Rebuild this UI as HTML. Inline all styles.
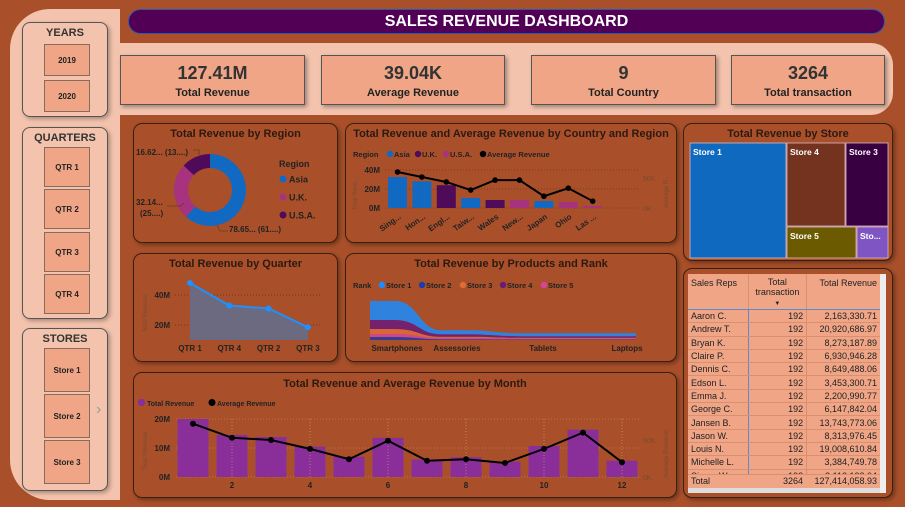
<!DOCTYPE html>
<html><head><meta charset="utf-8"><style>
*{box-sizing:border-box;margin:0;padding:0}
body{width:905px;height:507px;background:#a9502a;font-family:"Liberation Sans",sans-serif;position:relative;overflow:hidden;color:#222}
.abs{position:absolute}
.side{left:10px;top:9px;width:110px;height:491px;background:#f3c3ad;border-radius:40px 0 0 40px}
.grp{position:absolute;left:12px;width:86px;border:1px solid #555;border-radius:8px;background:#f3c3ad;box-shadow:2px 2px 4px rgba(0,0,0,.3)}
.grp h4{font-size:11px;text-align:center;margin-top:4px;font-weight:bold;color:#333}
.btn{position:absolute;left:21px;width:46px;border:1px solid #8a6a5a;background:#efa586;font-size:8px;font-weight:bold;display:flex;align-items:center;justify-content:center;color:#222}
.band{left:120px;top:43px;width:773px;height:72px;background:#f3c3ad;border-radius:0 22px 22px 0}
.kpi{position:absolute;top:12px;height:50px;border:1px solid #555;background:#efa586;text-align:center;box-shadow:2px 2px 4px rgba(0,0,0,.35)}
.kpi b{display:block;font-size:18px;margin-top:7px;color:#333}
.kpi span{display:block;font-size:11px;font-weight:bold;margin-top:3px;color:#222}
.card{position:absolute;border:1px solid #3a2010;border-radius:9px;background:#a9502a;box-shadow:2px 2px 4px rgba(0,0,0,.35)}
.card .t{position:absolute;left:0;right:0;top:4px;text-align:center;font-size:11px;font-weight:bold;color:#2b1a12}
svg text{font-family:"Liberation Sans",sans-serif}
table{border-collapse:collapse;font-size:9px;width:192px}
td{height:13.3px;border-bottom:1px solid #d8906f;padding:0 3px;white-space:nowrap;line-height:12px}
</style></head><body>
<div class="abs side">
 <div class="grp" style="top:13px;height:95px"><h4>YEARS</h4>
  <div class="btn" style="top:21px;height:32px">2019</div>
  <div class="btn" style="top:57px;height:32px">2020</div></div>
 <div class="grp" style="top:118px;height:192px"><h4>QUARTERS</h4>
  <div class="btn" style="top:19px;height:40px">QTR 1</div>
  <div class="btn" style="top:61px;height:40px">QTR 2</div>
  <div class="btn" style="top:104px;height:40px">QTR 3</div>
  <div class="btn" style="top:146px;height:40px">QTR 4</div></div>
 <div class="grp" style="top:319px;height:163px"><h4>STORES</h4>
  <div class="btn" style="top:19px;height:44px">Store 1</div>
  <div class="btn" style="top:65px;height:44px">Store 2</div>
  <div class="btn" style="top:111px;height:44px">Store 3</div>
  <div class="abs" style="left:73px;top:72px;font-size:16px;color:#999">›</div></div>
</div>
<div class="abs" style="left:128px;top:9px;width:757px;height:25px;background:#510055;border:1px solid #2a5ab0;border-radius:13px;color:#fff;font-weight:bold;font-size:16px;text-align:center;line-height:23px">SALES REVENUE DASHBOARD</div>
<div class="abs band">
 <div class="kpi" style="left:0;width:185px"><b>127.41M</b><span>Total Revenue</span></div>
 <div class="kpi" style="left:201px;width:184px"><b>39.04K</b><span>Average Revenue</span></div>
 <div class="kpi" style="left:411px;width:185px"><b>9</b><span>Total Country</span></div>
 <div class="kpi" style="left:611px;width:154px"><b>3264</b><span>Total transaction</span></div>
</div>

<div class="card" style="left:133px;top:123px;width:205px;height:120px"><div class="t">Total Revenue by Region</div></div>
<div class="card" style="left:345px;top:123px;width:332px;height:120px"><div class="t">Total Revenue and Average Revenue by Country and Region</div></div>
<div class="card" style="left:133px;top:253px;width:205px;height:109px"><div class="t">Total Revenue by Quarter</div></div>
<div class="card" style="left:345px;top:253px;width:332px;height:109px"><div class="t">Total Revenue by Products and Rank</div></div>
<div class="card" style="left:133px;top:372px;width:544px;height:126px"><div class="t" style="top:5px">Total Revenue and Average Revenue by Month</div></div>
<div class="card" style="left:683px;top:123px;width:210px;height:138px"><div class="t">Total Revenue by Store</div></div>
<div class="card" style="left:683px;top:268px;width:210px;height:230px"></div>

<svg id="ov" class="abs" style="left:0;top:0" width="905" height="507"></svg>

<div class="abs" style="left:688px;top:274px;width:198px;height:219px;background:#efa586;overflow:hidden">
<table id="tbl"></table>
<div class="abs" style="left:0;top:214px;width:192px;height:5px;background:#ddd"></div>
<div class="abs" style="left:192px;top:0;width:6px;height:219px;background:#eee"></div>
</div>

<script>
const NS="http://www.w3.org/2000/svg";
const ov=document.getElementById('ov');
function mk(tag,attrs,parent,txt){const e=document.createElementNS(NS,tag);for(const k in attrs)e.setAttribute(k,attrs[k]);if(txt!==undefined)e.textContent=txt;(parent||ov).appendChild(e);return e;}

// ---- Region donut data
const regionNames=["Asia","U.K.","U.S.A."];
const regionShares=[61,25,13];
const regionColors=["#1269c2","#a7327e","#4f0b5a"];
// ---- Country data
const countries=["Sing...","Hon...","Engl...","Taiw...","Wales","New...","Japan","Ohio","Las ..."];
const countryRevenue=[32.6,28,24,10.5,8.4,8.4,7.4,6.3,2];
const countryRegion=[0,0,1,0,1,2,0,2,2];
const countryAvg=[58,50,42,29,45,45,19,32,11];
const countryTicks=[0,20,40];
// ---- Quarter data
const quarters=["QTR 1","QTR 4","QTR 2","QTR 3"];
const quarterRevenue=[48,33,31,18.5];
const quarterTicks=[20,40];
// ---- Month data
const months=[1,2,3,4,5,6,7,8,9,10,11,12];
const monthRevenue=[20,14.5,13.8,10.5,7,13.5,6,6.8,5.3,10.7,16.3,5.6];
const monthAvg=[72,53,50,38,24,49,22,24,19,38,60,20];
const monthTicks=[0,10,20];
const monthLabels=[2,4,6,8,10,12];
// ---- Products data (revenue M per store)
const products=["Smartphones","Assessories","Tablets","Laptops"];
const storeNames=["Store 1","Store 2","Store 3","Store 4","Store 5"];
const storeColors=["#1a8cff","#1f3aa6","#e06a3a","#6b1a7a","#d8449a"];
const prodStore1=[19,4,3,3];
const prodStore2=[3,0.8,0.6,0.6];
const prodStore3=[5,1.2,0.8,0.8];
const prodStore4=[9,2.5,1.6,1.5];
const prodStore5=[3,1.2,0.8,0.8];
// ---- Treemap
const treeStores=["Store 1","Store 4","Store 3","Store 5","Sto..."];
const treeColors=["#0f6abf","#74331e","#380040","#6b5a00","#7f55c4"];
// ---- Table
const reps=["Aaron C.","Andrew T.","Bryan K.","Claire P.","Dennis C.","Edson L.","Emma J.","George C.","Jansen B.","Jason W.","Louis N.","Michelle L.","Simon W."];
const repTrans=[192,192,192,192,192,192,192,192,192,192,192,192,192];
const repRevenue=["2,163,330.71","20,920,686.97","8,273,187.89","6,930,946.28","8,649,488.06","3,453,300.71","2,200,990.77","6,147,842.04","13,743,773.06","8,313,976.45","19,008,610.84","3,384,749.78","3,112,122.04"];

// ===== Donut
(function(){
 const cx=210,cy=190,R=36,r=22;let a=-Math.PI/2;const tot=regionShares.reduce((s,v)=>s+v,0);
 regionShares.forEach((v,i)=>{const a2=a+v/tot*2*Math.PI;const lg=(a2-a)>Math.PI?1:0;
  const p=`M${cx+R*Math.cos(a)} ${cy+R*Math.sin(a)} A${R} ${R} 0 ${lg} 1 ${cx+R*Math.cos(a2)} ${cy+R*Math.sin(a2)} L${cx+r*Math.cos(a2)} ${cy+r*Math.sin(a2)} A${r} ${r} 0 ${lg} 0 ${cx+r*Math.cos(a)} ${cy+r*Math.sin(a)}Z`;
  const s=mk('path',{d:p,fill:regionColors[i]});
  
  
  a=a2;});
 mk('text',{x:136,y:155,'font-size':8,'font-weight':'bold',fill:'#222'},null,"16.62... (13....)");
 mk('text',{x:136,y:205,'font-size':8,'font-weight':'bold',fill:'#222'},null,"32.14...");
 mk('text',{x:140,y:216,'font-size':8,'font-weight':'bold',fill:'#222'},null,"(25....)");
 mk('text',{x:229,y:232,'font-size':8,'font-weight':'bold',fill:'#222'},null,"78.65... (61....)");
 mk('path',{d:"M193 150h6v5M167 206h14l3-3M217 225l3 6h8",stroke:'#6a3a20',fill:'none','stroke-width':0.8});
 mk('text',{x:279,y:167,'font-size':9,'font-weight':'bold',fill:'#222'},null,"Region");
 regionNames.forEach((n,i)=>{const y=179+i*18;
  const c=mk('circle',{cx:283,cy:y,r:3.5,fill:regionColors[i]});
  
  
  mk('text',{x:289,y:y+3.5,'font-size':9,'font-weight':'bold',fill:'#222'},null,n);});
})();

// ===== Country chart
(function(){
 const x0=388,step=24.4,bw=19,y0=208,ppm=38/40;const yA=v=>y0-v*31/50;const yR=v=>y0-v*ppm;
 const lx=[353,394,422,450,487];const lt=["Region","Asia","U.K.","U.S.A.","Average Revenue"];const lc=[null,regionColors[0],regionColors[2],regionColors[1],"#000"];
 lt.forEach((t,i)=>{if(lc[i])mk('circle',{cx:lx[i]-4,cy:154,r:3.2,fill:lc[i]});mk('text',{x:lx[i],y:157,'font-size':7.5,'font-weight':'bold',fill:'#222'},null,t);});
 countryTicks.forEach(t=>{const y=yR(t);mk('line',{x1:385,x2:640,y1:y,y2:y,stroke:'#7a3a1e','stroke-dasharray':'1 2'});mk('text',{x:380,y:y+3,'text-anchor':'end','font-size':8,'font-weight':'bold',fill:'#222'},null,t+"M");});
 mk('text',{x:643,y:181,'font-size':7,fill:'#7a4a30'},null,"50K");mk('text',{x:643,y:211,'font-size':7,fill:'#7a4a30'},null,"0K");
 mk('text',{x:0,y:0,'font-size':6,fill:'#7a4a30',transform:'translate(357,210) rotate(-90)'},null,"Total Reve...");
 mk('text',{x:0,y:0,'font-size':6,fill:'#7a4a30',transform:'translate(668,208) rotate(-90)'},null,"Average R...");
 const colsByRegion=[regionColors[0],regionColors[2],regionColors[1]];
 countries.forEach((c,i)=>{const x=x0+i*step;
  const b=mk('rect',{x:x,y:yR(countryRevenue[i]),width:bw,height:y0-yR(countryRevenue[i]),fill:colsByRegion[countryRegion[i]]});
  
  
  mk('text',{x:0,y:0,'font-size':8,'font-weight':'bold',fill:'#222','text-anchor':'end',transform:`translate(${x+bw/2+4},${y0+10}) rotate(-35)`},null,c);});
 const pts=countryAvg.map((v,i)=>[x0+i*step+bw/2,yA(v)]);
 mk('polyline',{points:pts.map(p=>p.join(',')).join(' '),fill:'none',stroke:'#000','stroke-width':2});
 pts.forEach((p,i)=>{const c=mk('circle',{cx:p[0],cy:p[1],r:2.8,fill:'#000'});});
})();

// ===== Quarter chart
(function(){
 const x0=190,step=39.3,base=340;const yv=v=>325-(v-20)*1.5;
 mk('text',{x:0,y:0,'font-size':6,fill:'#7a4a30',transform:'translate(147,332) rotate(-90)'},null,"Total Revenue");
 quarterTicks.forEach(t=>{const y=yv(t);mk('line',{x1:175,x2:322,y1:y,y2:y,stroke:'#6a3518','stroke-dasharray':'1 2'});mk('text',{x:170,y:y+3,'text-anchor':'end','font-size':8,'font-weight':'bold',fill:'#222'},null,t+"M");});
 const pts=quarterRevenue.map((v,i)=>[x0+i*step,yv(v)]);
 mk('path',{d:`M${pts[0][0]} ${base} `+pts.map(p=>`L${p[0]} ${p[1]}`).join(' ')+` L${pts[pts.length-1][0]} ${base}Z`,fill:'#6b6a80'});
 mk('polyline',{points:pts.map(p=>p.join(',')).join(' '),fill:'none',stroke:'#1e90ff','stroke-width':2});
 pts.forEach((p,i)=>{const c=mk('circle',{cx:p[0],cy:p[1],r:3,fill:'#1e90ff'});
  mk('text',{x:p[0],y:351,'text-anchor':'middle','font-size':8,'font-weight':'bold',fill:'#222'},null,quarters[i]);});
})();

// ===== Products ribbon
(function(){
 const lx=[353,386,426,467,507,548];const lt=["Rank"].concat(storeNames);
 lt.forEach((t,i)=>{if(i>0)mk('circle',{cx:lx[i]-4,cy:285,r:3.2,fill:storeColors[i-1]});mk('text',{x:lx[i],y:288,'font-size':7.5,'font-weight':'bold',fill:'#222'},null,t);});
 const xs=[370,442,520,612],nodeW=[25,25,35,24];const base=340,ppm=39/39;
 const order=[[prodStore2,1],[prodStore5,4],[prodStore3,2],[prodStore4,3],[prodStore1,0]];
 let cum=products.map(()=>0);
 order.forEach(([arr,si])=>{
  const top=arr.map((v,i)=>base-(cum[i]+v)*ppm), bot=cum.map(c=>base-c*ppm);
  let d=`M${xs[0]} ${top[0]}`;
  for(let i=0;i<products.length;i++){const xe=xs[i]+nodeW[i];d+=` L${xe} ${top[i]}`;if(i<products.length-1){const xn=xs[i+1];const m=(xe+xn)/2;d+=` C${m} ${top[i]} ${m} ${top[i+1]} ${xn} ${top[i+1]}`;}}
  for(let i=products.length-1;i>=0;i--){const xe=xs[i]+nodeW[i];d+=` L${xe} ${bot[i]} L${xs[i]} ${bot[i]}`;if(i>0){const xp=xs[i-1]+nodeW[i-1];const m=(xp+xs[i])/2;d+=` C${m} ${bot[i]} ${m} ${bot[i-1]} ${xp} ${bot[i-1]}`;}}
  d+='Z';
  const p=mk('path',{d:d,fill:storeColors[si],opacity:0.85});
  
  
  cum=cum.map((c,i)=>c+arr[i]);});
 const labX=[397,457,543,627];
 products.forEach((n,i)=>mk('text',{x:labX[i],y:351,'text-anchor':'middle','font-size':8,'font-weight':'bold',fill:'#222'},null,n));
})();

// ===== Month chart
(function(){
 const x0=193,step=39,bw=31,y0=477;const yR=v=>y0-v*2.9;const yA=v=>y0-v*37/50;
 mk('rect',{x:138,y:399,width:7,height:7,rx:3,fill:'#8a2f9a'});mk('text',{x:147,y:406,'font-size':7,'font-weight':'bold',fill:'#222'},null,"Total Revenue");
 mk('circle',{cx:212,cy:402.5,r:3.5,fill:'#000'});mk('text',{x:217,y:406,'font-size':7,'font-weight':'bold',fill:'#222'},null,"Average Revenue");
 monthTicks.forEach(t=>{const y=yR(t);mk('line',{x1:176,x2:640,y1:y,y2:y,stroke:'#d08060','stroke-dasharray':'1 2',opacity:.7});mk('text',{x:170,y:y+3,'text-anchor':'end','font-size':8,'font-weight':'bold',fill:'#222'},null,t+"M");});
 mk('text',{x:643,y:443,'font-size':7,fill:'#7a4a30'},null,"50K");mk('text',{x:643,y:480,'font-size':7,fill:'#7a4a30'},null,"0K");
 mk('text',{x:0,y:0,'font-size':6,fill:'#7a4a30',transform:'translate(147,470) rotate(-90)'},null,"Total Revenue");
 mk('text',{x:0,y:0,'font-size':6,fill:'#7a4a30',transform:'translate(668,478) rotate(-90)'},null,"Average Revenue");
 months.forEach((m,i)=>{const cx=x0+i*step;
  const b=mk('rect',{x:cx-bw/2,y:yR(monthRevenue[i]),width:bw,height:y0-yR(monthRevenue[i]),fill:'#8a2f9a'});
  
  });
 monthLabels.forEach(m=>{const cx=x0+(m-1)*step;mk('line',{x1:cx,x2:cx,y1:419,y2:477,stroke:'#d8a080','stroke-dasharray':'1 2',opacity:.6});mk('text',{x:cx,y:488,'text-anchor':'middle','font-size':8,'font-weight':'bold',fill:'#222'},null,m);});
 const pts=monthAvg.map((v,i)=>[x0+i*step,yA(v)]);
 mk('polyline',{points:pts.map(p=>p.join(',')).join(' '),fill:'none',stroke:'#000','stroke-width':2});
 pts.forEach((p,i)=>{const c=mk('circle',{cx:p[0],cy:p[1],r:3,fill:'#000'});});
})();

// ===== Treemap
(function(){
 const rects=[[690,143,96,115],[787,143,58,83],[846,143,42,83],[787,227,69,31],[857,227,31,31]];
 treeStores.forEach((n,i)=>{const r=rects[i];
  const e=mk('rect',{x:r[0],y:r[1],width:r[2],height:r[3],fill:treeColors[i],stroke:'#d9b8c8','stroke-width':0.8});
  
  
  mk('text',{x:r[0]+3,y:r[1]+12,'font-size':8.5,'font-weight':'bold',fill:'#fff'},null,n);});
})();

// ===== Table
(function(){
 const t=document.getElementById('tbl');
 let h='<tr style="vertical-align:top"><td style="border-right:1px solid #d8906f;padding-top:3px;height:31px;border-bottom:1px solid #5a8ad0">Sales Reps</td><td style="text-align:center;border-right:1px solid #d8906f;border-bottom:1px solid #5a8ad0;padding-top:3px;line-height:10px">Total<br>transaction<br><span style="font-size:6px">▼</span></td><td style="text-align:right;border-bottom:1px solid #5a8ad0;padding-top:3px">Total Revenue</td></tr>';
 reps.forEach((r,i)=>{h+=`<tr><td style="border-right:1px solid #5a8ad0">${r}</td><td style="text-align:right;border-right:1px solid #d8906f">${repTrans[i]}</td><td style="text-align:right">${repRevenue[i]}</td></tr>`;});
 t.innerHTML=h;
 const tot=document.createElement('div');
 
 
 tot.style.cssText='position:absolute;left:0;top:200px;width:192px;height:14px;background:#efa586;font-size:9px;border-top:1px solid #d8906f';
 tot.innerHTML='<span style="position:absolute;left:3px;top:1px">Total</span><span style="position:absolute;right:77px;top:1px">3264</span><span style="position:absolute;right:3px;top:1px">127,414,058.93</span>';
 t.parentNode.appendChild(tot);
})();
</script>
</body></html>
